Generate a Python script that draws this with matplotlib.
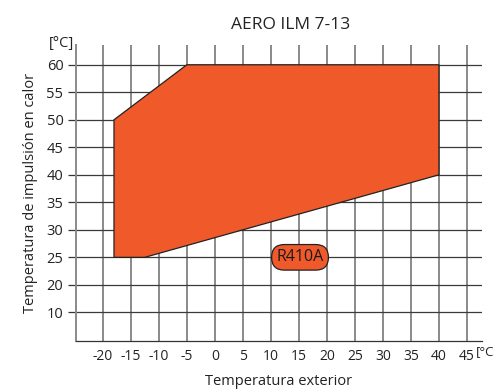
import numpy as np
import matplotlib.pyplot as plt
from matplotlib.patches import Polygon

# operating envelope (outdoor temp, supply temp)
env_x = [-18, -18, -5, 40, 40, -12.5]
env_y = [25, 50, 60, 60, 40, 25]
xticks = [-20, -15, -10, -5, 0, 5, 10, 15, 20, 25, 30, 35, 40, 45]
# the original chart labels its lowest grid line "10" (no 15 line)
yticks = [15, 20, 25, 30, 35, 40, 45, 50, 55, 60]
ylabels = ['10', '20', '25', '30', '35', '40', '45', '50', '55', '60']
orange = '#F05A2A'

plt.rcParams['font.family'] = ['Open Sans', 'DejaVu Sans']
plt.rcParams['axes.unicode_minus'] = False
fig = plt.figure(figsize=(4.96, 3.91), dpi=100)
ax = fig.add_axes([0.153, 0.128, 0.819, 0.757])
ax.set_xlim(-24.8, 47.7)
ax.set_ylim(9.8, 63.6)

for x in xticks:
    ax.axvline(x, color='#8a8a8a', lw=1.4, zorder=1)
for y in yticks:
    ax.axhline(y, color='#3a3a3a', lw=0.9, zorder=1)

poly = Polygon(list(zip(env_x, env_y)), closed=True, facecolor=orange,
               edgecolor='#222222', lw=0.9, zorder=3)
ax.add_patch(poly)

ax.text(15.2, 25, 'R410A', ha='center', va='center', fontsize=11.5, zorder=5,
        color='#1a1a1a',
        bbox=dict(boxstyle='round,pad=0.3,rounding_size=0.8', fc=orange, ec='#222222', lw=0.9))

for s in ['top', 'right']:
    ax.spines[s].set_visible(False)
ax.spines['left'].set_color('#8a8a8a')
ax.spines['left'].set_linewidth(1.4)
ax.spines['bottom'].set_color('#333333')
ax.spines['bottom'].set_linewidth(0.9)

ax.set_xticks(xticks)
ax.set_yticks(yticks, ylabels)
ax.tick_params(axis='x', length=0, pad=6, labelsize=10, colors='#222222')
ax.tick_params(axis='y', length=6, width=0.9, color='#333333', pad=3, labelsize=10.5, labelcolor='#222222')

ax.text(-25.2, 63.8, '[°C]', ha='right', va='center', fontsize=10.5, color='#222222')
ax.text(46.6, 7.8, '[°C', ha='left', va='center', fontsize=9.5, color='#222222')
ax.set_xlabel('Temperatura exterior', fontsize=10.5, labelpad=7, color='#222222')
ax.set_ylabel('Temperatura de impulsión en calor', fontsize=10.5, labelpad=6, color='#222222')
fig.text(0.585, 0.935, 'AERO ILM 7-13', ha='center', va='center', fontsize=12.5, color='#222222')

fig.savefig('out.png', dpi=100)
